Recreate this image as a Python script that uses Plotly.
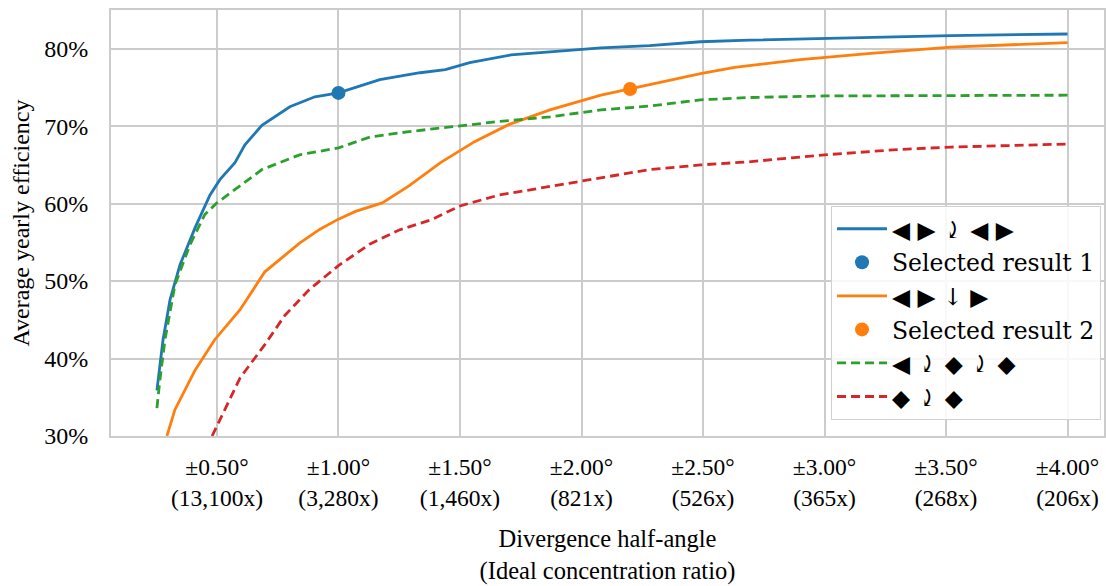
import plotly.graph_objects as go

# ---- data ----
blue_x = [0.253, 0.278, 0.307, 0.348, 0.41, 0.471, 0.512, 0.574, 0.615, 0.685, 0.80, 0.903, 1.0,
          1.17, 1.336, 1.44, 1.54, 1.71, 1.87, 2.08, 2.28, 2.49, 2.69, 3.0, 3.52, 4.0]
blue_y = [35.9, 42.4, 47.6, 52.1, 56.9, 61.1, 63.1, 65.3, 67.6, 70.1, 72.5, 73.8, 74.3,
          76.0, 76.9, 77.3, 78.2, 79.2, 79.6, 80.1, 80.4, 80.9, 81.1, 81.3, 81.7, 81.9]

orange_x = [0.294, 0.327, 0.41, 0.49, 0.595, 0.697, 0.84, 0.924, 1.0, 1.07, 1.18, 1.29, 1.42,
            1.56, 1.70, 1.87, 2.08, 2.2, 2.49, 2.63, 2.90, 3.19, 3.52, 4.0]
orange_y = [30.0, 33.4, 38.5, 42.4, 46.3, 51.2, 54.9, 56.7, 58.0, 59.0, 60.1, 62.3, 65.3,
            68.0, 70.2, 72.1, 74.0, 74.8, 76.8, 77.6, 78.6, 79.4, 80.2, 80.8]

green_x = [0.253, 0.265, 0.286, 0.327, 0.389, 0.45, 0.50, 0.574, 0.685, 0.84, 1.0, 1.13, 1.29,
           1.46, 1.66, 1.87, 2.08, 2.28, 2.49, 2.69, 3.0, 4.0]
green_y = [33.6, 37.2, 42.4, 49.5, 54.7, 58.6, 60.1, 61.8, 64.4, 66.3, 67.2, 68.6, 69.3,
           69.9, 70.6, 71.2, 72.1, 72.6, 73.4, 73.7, 73.9, 74.0]

red_x = [0.48, 0.533, 0.595, 0.697, 0.78, 0.88, 1.0, 1.13, 1.25, 1.38, 1.50, 1.66, 1.87, 2.08,
         2.28, 2.49, 2.69, 3.0, 3.31, 3.52, 4.0]
red_y = [30.0, 33.4, 37.5, 41.8, 45.6, 48.9, 52.0, 54.8, 56.6, 57.9, 59.7, 61.1, 62.2, 63.3,
         64.4, 65.0, 65.4, 66.3, 67.0, 67.3, 67.7]

sel1_x = [1.0]
sel1_y = [74.3]
sel2_x = [2.2]
sel2_y = [74.8]

names = ["◀ ▶ ⤸ ◀ ▶", "Selected result 1", "◀ ▶ ↓ ▶", "Selected result 2",
         "◀ ⤸ ◆ ⤸ ◆", "◆ ⤸ ◆"]

tick_vals = [0.5, 1.0, 1.5, 2.0, 2.5, 3.0, 3.5, 4.0]
tick_angles = ["±0.50°", "±1.00°", "±1.50°", "±2.00°", "±2.50°", "±3.00°", "±3.50°", "±4.00°"]
tick_ratios = ["(13,100x)", "(3,280x)", "(1,460x)", "(821x)", "(526x)", "(365x)", "(268x)", "(206x)"]
y_ticks = [30, 40, 50, 60, 70, 80]

BLUE = "#1f77b4"
ORANGE = "#ff7f0e"
GREEN = "#2ca02c"
RED = "#d62728"
FONT = "Liberation Serif, DejaVu Serif, serif"
LEG_FONT = "DejaVu Serif, serif"
GRID = "#cccccc"

fig = go.Figure()
fig.add_trace(go.Scatter(x=blue_x, y=blue_y, mode="lines", name=names[0],
                         line=dict(color=BLUE, width=2.8)))
fig.add_trace(go.Scatter(x=sel1_x, y=sel1_y, mode="markers", name=names[1],
                         marker=dict(color=BLUE, size=14)))
fig.add_trace(go.Scatter(x=orange_x, y=orange_y, mode="lines", name=names[2],
                         line=dict(color=ORANGE, width=2.8)))
fig.add_trace(go.Scatter(x=sel2_x, y=sel2_y, mode="markers", name=names[3],
                         marker=dict(color=ORANGE, size=14)))
fig.add_trace(go.Scatter(x=green_x, y=green_y, mode="lines", name=names[4],
                         line=dict(color=GREEN, width=2.8, dash="9px,5px")))
fig.add_trace(go.Scatter(x=red_x, y=red_y, mode="lines", name=names[5],
                         line=dict(color=RED, width=2.8, dash="9px,5px")))

fig.update_layout(
    width=1106, height=586,
    margin=dict(l=111, r=2, t=10, b=150, autoexpand=False),
    plot_bgcolor="white", paper_bgcolor="white",
    font=dict(family=FONT, size=24, color="black"),
    showlegend=True,
    legend=dict(x=0.997, y=0.0376, xanchor="right", yanchor="bottom",
                bgcolor="rgba(255,255,255,0.85)", bordercolor="#d0d0d0", borderwidth=1,
                font=dict(family=LEG_FONT, size=23.5), itemwidth=50, tracegroupgap=0),
    xaxis=dict(range=[0.064, 4.15], tickmode="array", tickvals=tick_vals,
               ticktext=[a + "<br>" + r for a, r in zip(tick_angles, tick_ratios)],
               showgrid=True, gridcolor=GRID, gridwidth=1.8,
               showline=True, linecolor=GRID, linewidth=1.8, mirror=True,
               zeroline=False, ticks="", ticklabelstandoff=9, tickfont=dict(size=23.5),
               title=dict(text="Divergence half-angle<br>(Ideal concentration ratio)",
                          font=dict(size=24.5), standoff=20)),
    yaxis=dict(range=[30, 85], tickmode="array", tickvals=y_ticks,
               ticktext=[f"{v}%" for v in y_ticks],
               showgrid=True, gridcolor=GRID, gridwidth=1.8,
               showline=True, linecolor=GRID, linewidth=1.8, mirror=True,
               zeroline=False, ticks="", ticklabelstandoff=16, tickfont=dict(size=24),
               title=dict(text="Average yearly efficiency", font=dict(size=24), standoff=8)),
)

fig.write_html("out.html", config={"displayModeBar": False})

# remove the default page margin so the figure sits at the window origin
with open("out.html", "r", encoding="utf-8") as f:
    html = f.read()
html = html.replace("<head>", "<head><style>html,body{margin:0;padding:0;overflow:hidden;}</style>", 1)
with open("out.html", "w", encoding="utf-8") as f:
    f.write(html)
